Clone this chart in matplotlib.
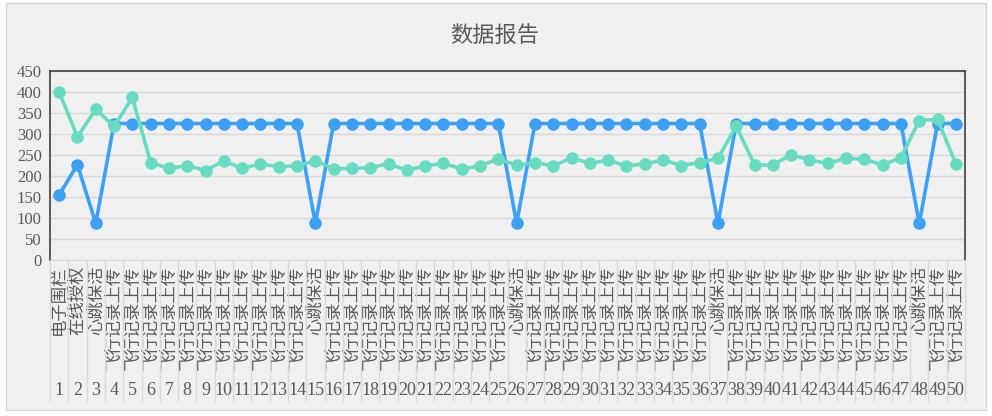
import matplotlib.pyplot as plt
import matplotlib.transforms as mtransforms
from matplotlib.patches import Rectangle
import numpy as np

plt.rcParams['font.family'] = ['Liberation Serif', 'Noto Sans CJK SC', 'DejaVu Sans']

title = '数据报告'

positions = list(range(1, 51))
names = (['电子围栏', '在线授权', '心跳保活'] + ['飞行记录上传'] * 11 + ['心跳保活']
         + ['飞行记录上传'] * 10 + ['心跳保活'] + ['飞行记录上传'] * 10 + ['心跳保活']
         + ['飞行记录上传'] * 10 + ['心跳保活'] + ['飞行记录上传'] * 2)

blue = [155, 227, 87, 325, 325, 325, 325, 325, 325, 325,
        325, 325, 325, 325, 87, 325, 325, 325, 325, 325,
        325, 325, 325, 325, 325, 87, 325, 325, 325, 325,
        325, 325, 325, 325, 325, 325, 87, 325, 325, 325,
        325, 325, 325, 325, 325, 325, 325, 87, 325, 325]

teal = [400, 293, 359, 318, 387, 232, 218, 225, 213, 236,
        218, 229, 222, 224, 236, 217, 218, 220, 229, 214,
        224, 230, 217, 224, 241, 226, 232, 224, 243, 230,
        238, 224, 229, 238, 225, 232, 242, 319, 226, 226,
        251, 238, 230, 242, 240, 226, 244, 332, 335, 229]

yticks = [0, 50, 100, 150, 200, 250, 300, 350, 400, 450]

bg = '#f0f0f0'
txt = '#595959'
grid = '#d9d9d9'

fig = plt.figure(figsize=(9.92, 4.16), dpi=100, facecolor='white')
fig.patches.append(Rectangle((6 / 992, 1 - 410 / 416), 980 / 992, 407 / 416,
                             transform=fig.transFigure, facecolor=bg,
                             edgecolor='#d4d4d4', linewidth=1, zorder=-5))

ax = fig.add_axes([50 / 992, 1 - 260 / 416, 915 / 992, 189 / 416])
ax.set_facecolor(bg)

ax.plot(positions, blue, color='#3ca0f4', linewidth=2.6, marker='o',
        markersize=8, zorder=3, clip_on=False)
ax.plot(positions, teal, color='#68dcc0', linewidth=2.6, marker='o',
        markersize=8, zorder=4, clip_on=False)

ax.set_xlim(0.5, 50.5)
ax.set_ylim(0, 450)
ax.set_yticks(yticks)
ax.set_yticklabels([str(v) for v in yticks], fontsize=12, color=txt)
ax.grid(axis='y', color=grid, linewidth=1)
ax.set_axisbelow(True)
ax.tick_params(axis='y', length=0, pad=6)
ax.tick_params(axis='x', length=0, pad=4)

ax.set_xticks(positions)
ax.set_xticklabels(names, rotation=90, fontsize=12.5, color=txt,
                   ha='center', va='top', family='Noto Sans CJK SC')

trans = mtransforms.blended_transform_factory(ax.transData, ax.transAxes)
for p in positions:
    ax.text(p, -0.688, str(p), transform=trans, ha='center', va='center',
            fontsize=13, color=txt)
for k in range(51):
    ax.plot([k + 0.5, k + 0.5], [0, -0.745], transform=trans, color=grid,
            linewidth=1, clip_on=False, zorder=1)

for s in ['top', 'left', 'right']:
    ax.spines[s].set_color('#404040')
    ax.spines[s].set_linewidth(1.2)
ax.spines['bottom'].set_color(grid)

fig.text(495 / 992, 1 - 35 / 416, title, ha='center', va='center',
         fontsize=16, color=txt, family='Noto Sans CJK SC')

fig.savefig('out.png', dpi=100, facecolor='white')
